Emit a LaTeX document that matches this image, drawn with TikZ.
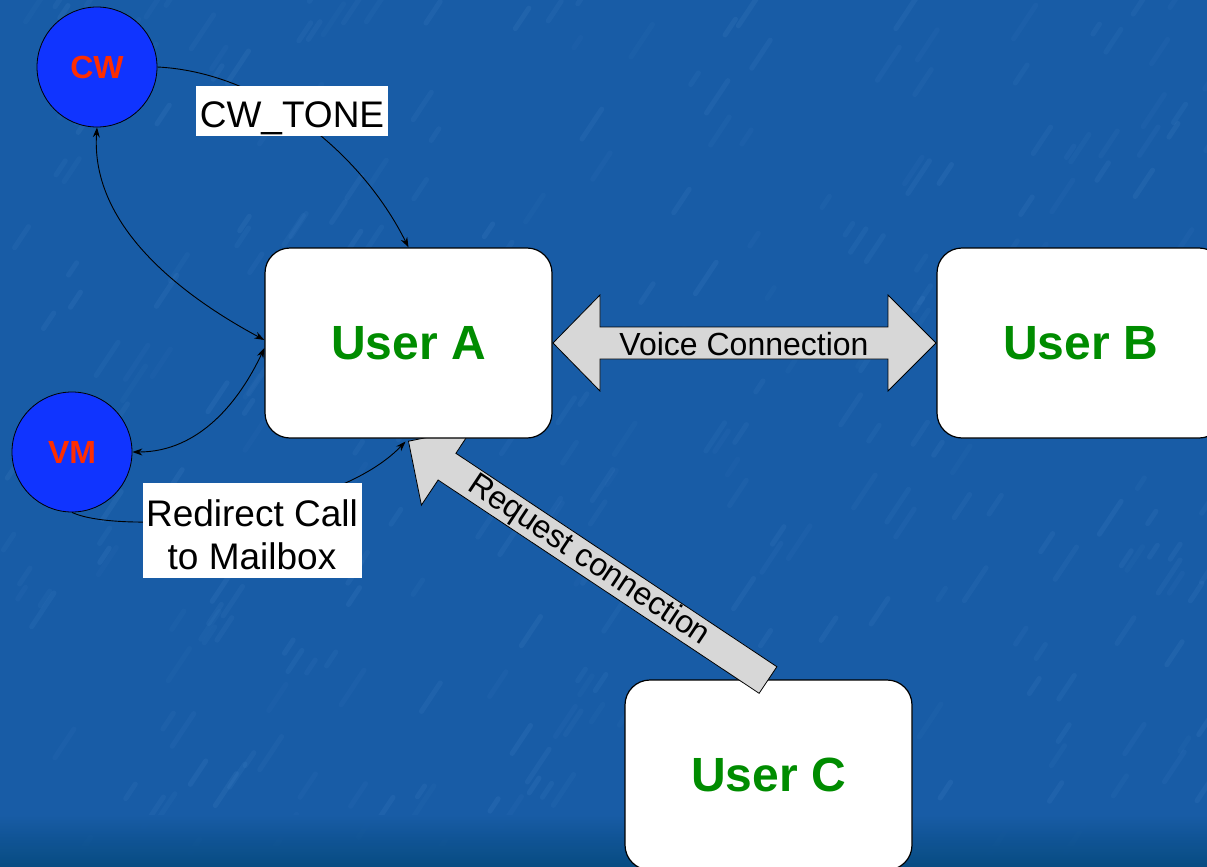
\documentclass[tikz,border=0pt]{standalone}
\usepackage{fontspec}
\setmainfont{Liberation Sans}
\usetikzlibrary{arrows.meta,calc}
\definecolor{bgblue}{RGB}{24,92,166}
\definecolor{bgdark}{RGB}{6,74,126}
\definecolor{streak}{RGB}{90,150,215}
\definecolor{circblue}{RGB}{16,52,255}
\definecolor{cwred}{RGB}{255,45,0}
\definecolor{usergreen}{RGB}{0,140,0}
\definecolor{arrowgray}{RGB}{215,215,215}
\begin{document}
\begin{tikzpicture}[x=1pt,y=-1pt,
  userbox/.style={draw=black, line width=1.2pt, fill=white, rounded corners=25pt,
    minimum width=287pt, minimum height=190pt, inner sep=0pt, text=usergreen,
    font=\fontsize{48}{50}\selectfont\bfseries},
  state/.style={circle, draw=black, line width=0.8pt, fill=circblue, minimum size=120pt,
    inner sep=0pt, text=cwred, font=\fontsize{32}{34}\selectfont\bfseries},
  link/.style={line width=0.9pt, draw=black},
  tipend/.style={-{Stealth[length=10pt,width=7pt]}},
  tipboth/.style={{Stealth[length=10pt,width=7pt]}-{Stealth[length=10pt,width=7pt]}},
  lblbox/.style={fill=white, inner sep=0pt},
  lbltext/.style={inner sep=0pt, font=\fontsize{37}{43}\selectfont, align=center},
  bigarrow/.style={fill=arrowgray, draw=black, line width=0.8pt},
  arrowtext/.style={font=\fontsize{32}{34}\selectfont, inner sep=0pt}]
\useasboundingbox (0,0) rectangle (1207,867);
\clip (0,0) rectangle (1207,867);
% background
\fill[bgblue] (0,0) rectangle (1207,867);
\pgfmathsetseed{4242}
\foreach \i in {1,...,320}{
  \pgfmathsetmacro{\sx}{rnd*1207}
  \pgfmathsetmacro{\sy}{rnd*867}
  \pgfmathsetmacro{\sl}{12+rnd*30}
  \pgfmathsetmacro{\so}{0.05+rnd*0.08}
  \draw[streak, opacity=\so, line width=5pt, line cap=round]
    (\sx,\sy) -- ++(\sl*0.55,-\sl*0.83);
}
\shade[top color=bgblue, bottom color=bgdark, opacity=0.9] (0,815) rectangle (1207,867);
% nodes
\node[userbox] (C) at (768.5,775) {User C};
% request connection arrow (behind User A, over User C)
\draw[bigarrow] (776.9,666.7) -- (455.9,453.3) -- (472.4,428.3) -- (408.5,441.2)
  -- (421.4,505.1) -- (438.1,480.0) -- (759.1,693.3) -- cycle;
\node[arrowtext, rotate=-33.6] (rq) at (588.5,560.7) {Request connection};
\node[userbox] (A) at (408.5,343) {User A};
\node[userbox] (B) at (1080.5,343) {User B};
% voice connection arrow
\draw[bigarrow] (553,343) -- (600,295) -- (600,327) -- (888,327) -- (888,295) -- (936,343)
  -- (888,391) -- (888,359) -- (600,359) -- (600,391) -- cycle;
\node[arrowtext] (vc) at (744,344) {Voice Connection};
% state circles
\node[state] (CW) at (97,67) {CW};
\node[state] (VM) at (72,452) {VM};
% connectors
\draw[link, tipend] (CW.east) .. controls (260,72) and (360,150) .. (A.north);
\draw[link, tipboth] (CW.south) .. controls (90,230) and (190,300) .. ([yshift=3pt]A.west);
\draw[link, tipboth] (VM.east) .. controls (200,452) and (240,400) .. ([yshift=-5pt]A.west);
\draw[link, tipend] (VM.south) .. controls (120,535) and (330,520) .. ([xshift=-3pt,yshift=-3pt]A.south);
% labels
\node[lblbox, minimum width=192pt, minimum height=50pt] (tone) at (292,111) {};
\node[lbltext, text depth=0pt] (tonetext) at ([yshift=-4pt]tone.center) {CW\_TONE};
\node[lblbox, minimum width=219pt, minimum height=95pt] (redir) at (252,530) {};
\node[lbltext] (redirtext) at ([yshift=-5pt]redir.center) {Redirect Call\\to Mailbox};
\end{tikzpicture}
\end{document}
